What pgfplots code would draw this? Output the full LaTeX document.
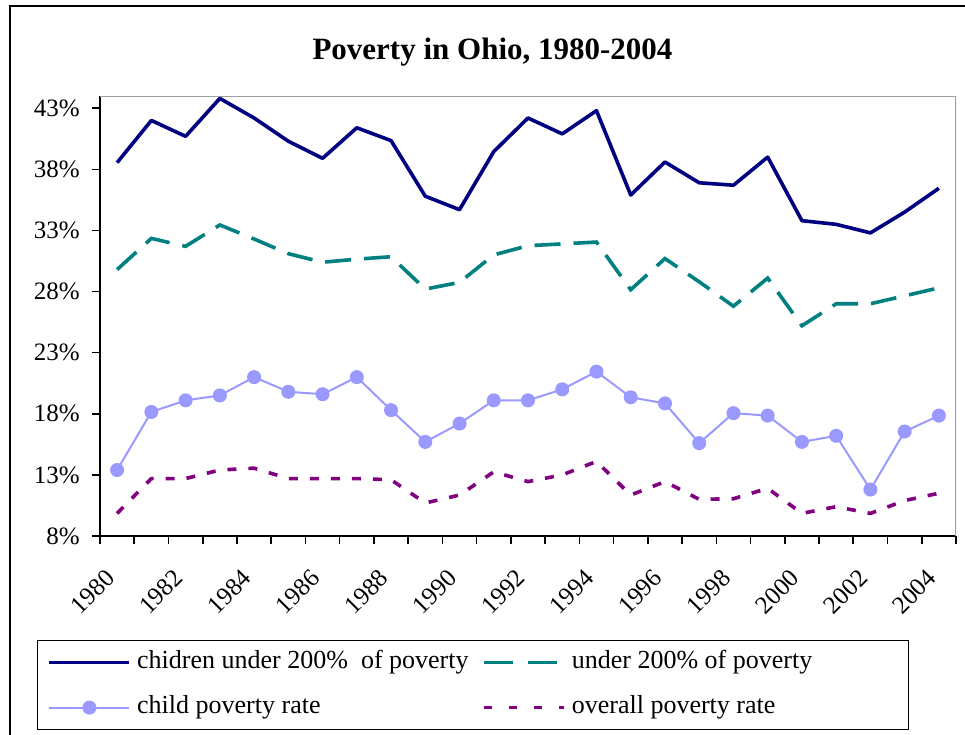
\documentclass[border=0pt]{standalone}
\usepackage{fontspec}
\setmainfont{Liberation Serif}
\usepackage{pgfplots}
\usepackage{pgfplotstable}
\pgfplotsset{compat=1.18}

\definecolor{cNavy}{HTML}{000080}
\definecolor{cTeal}{HTML}{008080}
\definecolor{cLilac}{HTML}{9999FF}
\definecolor{cPurple}{HTML}{800080}
\definecolor{cFrame}{HTML}{A0A0A0}

\pgfplotsset{
  tealleg/.style={legend image code/.code={\draw[##1, dash pattern=on 29pt off 15pt] (0pt,0pt) -- (73pt,0pt);}},
  purpleleg/.style={legend image code/.code={\draw[##1, dash pattern=on 8pt off 17pt] (0pt,0pt) -- (80pt,0pt);}},
}

% idx 0 = 1980 ... 24 = 2004
\pgfplotstableread{
idx year kids200 all200 childpov overall
0  1980 38.55 29.80 13.40  9.85
1  1981 42.00 32.35 18.15 12.70
2  1982 40.70 31.70 19.10 12.70
3  1983 43.80 33.45 19.50 13.40
4  1984 42.20 32.30 21.00 13.55
5  1985 40.30 31.10 19.80 12.70
6  1986 38.90 30.40 19.60 12.70
7  1987 41.40 30.65 21.00 12.70
8  1988 40.35 30.85 18.30 12.60
9  1989 35.80 28.20 15.70 10.70
10 1990 34.70 28.75 17.20 11.35
11 1991 39.45 31.00 19.10 13.25
12 1992 42.20 31.75 19.10 12.45
13 1993 40.90 31.90 20.00 13.00
14 1994 42.80 32.05 21.45 14.10
15 1995 35.90 28.15 19.35 11.35
16 1996 38.60 30.70 18.85 12.45
17 1997 36.90 28.80 15.60 11.00
18 1998 36.70 26.80 18.05 11.05
19 1999 39.00 29.10 17.85 11.90
20 2000 33.80 25.20 15.70  9.85
21 2001 33.50 27.00 16.20 10.40
22 2002 32.80 27.00 11.80  9.85
23 2003 34.50 27.65 16.55 10.90
24 2004 36.45 28.30 17.85 11.50
}\povdata

\begin{document}
\begin{tikzpicture}
\path[use as bounding box] (-100pt,-198pt) rectangle (865pt,536pt);
\draw[line width=2pt] (-90pt,-220pt) -- (-90pt,530pt) -- (880pt,530pt);
\begin{axis}[
  at={(0pt,0pt)}, anchor=south west,
  scale only axis, width=856pt, height=440pt,
  xmin=-0.5, xmax=24.5, ymin=8, ymax=44,
  axis x line*=bottom, axis y line*=left,
  axis line style={line width=1.8pt, black},
  tick align=outside,
  major tick length=8pt, minor tick length=8pt,
  every tick/.style={black, line width=1.6pt},
  xtick={0,2,...,24},
  xticklabels={1980,1982,1984,1986,1988,1990,1992,1994,1996,1998,2000,2002,2004},
  major x tick style={draw=none},
  minor xtick={-0.5,0.5,...,24.5},
  ytick={8,13,...,43},
  yticklabels={8\%,13\%,18\%,23\%,28\%,33\%,38\%,43\%},
  /pgf/number format/assume math mode=true,
  tick label style={font=\fontsize{25}{29}\selectfont},
  xticklabel style={xshift=-13pt, yshift=-24pt, rotate=45, anchor=north east, inner sep=0pt},
  yticklabel style={anchor=east, inner sep=0pt, xshift=-12pt},
  title={Poverty in Ohio, 1980-2004},
  title style={at={(0.4585,1.07)}, anchor=base, font=\bfseries\fontsize{31}{36}\selectfont},
  legend columns=2,
  legend cell align=left,
  legend image code/.code={
    \draw[mark repeat=2, mark phase=2, #1] plot coordinates {(0pt,0pt) (40pt,0pt) (80pt,0pt)};
  },
  legend style={at={(-0.0736,-0.2364)}, anchor=north west, draw=black, line width=1.2pt,
    inner xsep=10pt, inner ysep=11pt, column sep=6pt, row sep=23pt,
    nodes={inner sep=0pt, text height=17pt, text depth=5pt},
    font=\fontsize{26}{30}\selectfont},
]
\draw[cFrame, line width=1.5pt] (rel axis cs:0,1) -- (rel axis cs:1,1) -- (rel axis cs:1,0);

\addplot[cNavy, line width=3.6pt, line join=round] table[x=idx, y=kids200] {\povdata};
\addlegendentry{\makebox[339pt][l]{chidren under 200\%\ \ of poverty}}

\addplot[cTeal, line width=3.6pt, dash pattern=on 26pt off 13pt, tealleg]
  table[x=idx, y=all200] {\povdata};
\addlegendentry{\makebox[327pt][l]{under 200\% of poverty}}

\addplot[cLilac, line width=2pt, mark=*, mark size=6pt, mark options={solid, fill=cLilac, draw=cLilac}] table[x=idx, y=childpov] {\povdata};
\addlegendentry{\makebox[339pt][l]{child poverty rate}}

\addplot[cPurple, line width=3.6pt, dash pattern=on 9pt off 12pt, purpleleg]
  table[x=idx, y=overall] {\povdata};
\addlegendentry{\makebox[327pt][l]{overall poverty rate}}
\end{axis}
\end{tikzpicture}
\end{document}
